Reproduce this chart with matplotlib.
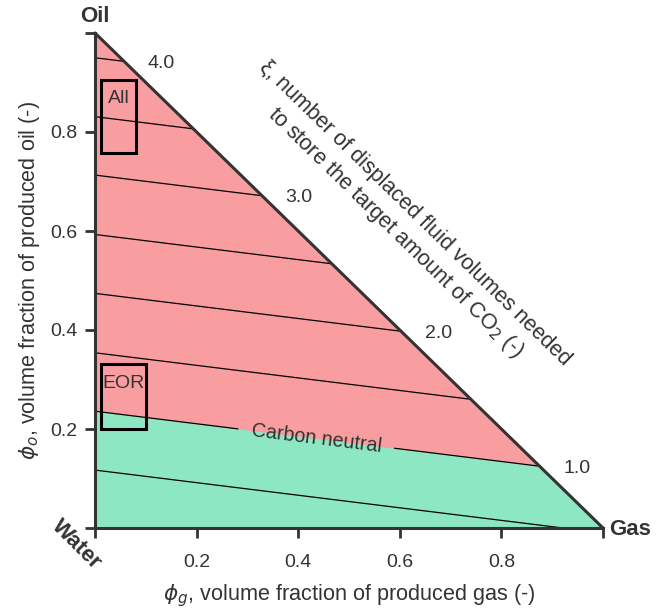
import numpy as np
import matplotlib.pyplot as plt
from matplotlib.patches import Polygon, Rectangle

plt.rcParams['font.family'] = ['Liberation Sans', 'DejaVu Sans']
plt.rcParams['mathtext.fontset'] = 'dejavusans'

# contour levels of xi and where each line sits (phi_o at phi_g = 0 and at phi_g = 1)
xi_levels = [0.5, 1.0, 1.5, 2.0, 2.5, 3.0, 3.5, 4.0]
phi_o_left = [0.117, 0.236, 0.354, 0.474, 0.593, 0.713, 0.831, 0.950]
phi_o_right = [-0.010, 0.109, 0.227, 0.347, 0.466, 0.586, 0.704, 0.823]
labelled = [1.0, 2.0, 3.0, 4.0]
neutral_level = 1.0

# boxes: (phi_g min, phi_g max, phi_o min, phi_o max)
box_names = ['All', 'EOR']
box_phi_g = [(0.012, 0.080), (0.012, 0.100)]
box_phi_o = [(0.758, 0.906), (0.200, 0.332)]

red = '#f99ea0'
green = '#8ee7c3'
dark = '#333333'

fig = plt.figure(figsize=(6.68, 6.13), dpi=100)
ax = fig.add_axes([95 / 668, 85 / 613, 508 / 668, 495 / 613])
ax.set_xlim(0, 1)
ax.set_ylim(0, 1)

tri = Polygon([[0, 0], [1, 0], [0, 1]], closed=True, facecolor=red, edgecolor='none')
ax.add_patch(tri)

i_n = xi_levels.index(neutral_level)
xs = np.array([0.0, 1.0])
cn = np.array([phi_o_left[i_n], phi_o_right[i_n]])
g = ax.fill_between(xs, 0, cn, color=green, lw=0)
g.set_clip_path(tri)

for lev, y0, y1 in zip(xi_levels, phi_o_left, phi_o_right):
    if lev == neutral_level:
        # leave a gap for the label
        for a, b in [(0.0, 0.281), (0.590, 1.0)]:
            ln, = ax.plot([a, b], [y0 + (y1 - y0) * a, y0 + (y1 - y0) * b], color='black', lw=0.9)
            ln.set_clip_path(tri)
        xm = 0.437
        ang = np.degrees(np.arctan((y1 - y0) * 495 / 508))
        ax.text(xm, y0 + (y1 - y0) * xm, 'Carbon neutral', rotation=ang, ha='center', va='center',
                rotation_mode='anchor', fontsize=14.2, color=dark)
    else:
        ln, = ax.plot([0, 1], [y0, y1], color='black', lw=0.9)
        ln.set_clip_path(tri)
    if lev in labelled:
        xe = (1 - y0) / (1 + (y1 - y0))
        ax.text(xe + 0.073, 1 - xe - 0.004, f'{lev:.1f}', ha='center', va='center', fontsize=14, color=dark)

# hypotenuse
ax.plot([0, 1], [1, 0], color=dark, lw=2.2, solid_capstyle='round', clip_on=False)

for name, (g0, g1), (o0, o1) in zip(box_names, box_phi_g, box_phi_o):
    ax.add_patch(Rectangle((g0, o0), g1 - g0, o1 - o0, fill=False, edgecolor='black', lw=2.2))
    ax.text((g0 + g1) / 2, o1 - 0.022, name, ha='center', va='top', fontsize=14, color=dark)

for s in ['top', 'right']:
    ax.spines[s].set_visible(False)
for s in ['left', 'bottom']:
    ax.spines[s].set_color(dark)
    ax.spines[s].set_linewidth(2.2)

ticks = [0, 0.2, 0.4, 0.6, 0.8, 1.0]
ax.set_xticks(ticks)
ax.set_yticks(ticks)
ax.set_xticklabels(['', '0.2', '0.4', '0.6', '0.8', ''])
ax.set_yticklabels(['', '0.2', '0.4', '0.6', '0.8', ''])
ax.tick_params(axis='both', length=7.5, width=2, color=dark, labelcolor=dark, labelsize=14)
ax.tick_params(axis='x', pad=11)
ax.tick_params(axis='y', pad=5)

ax.set_xlabel(r'$\phi_g$, volume fraction of produced gas (-)', fontsize=15.6, color=dark, labelpad=8)
ax.set_ylabel(r'$\phi_o$, volume fraction of produced oil (-)', fontsize=15.6, color=dark, labelpad=6)

ax.text(0, 1.034, 'Oil', ha='center', va='center', fontsize=16, fontweight='bold', color=dark, clip_on=False)
ax.text(1.012, -0.004, 'Gas', ha='left', va='center', fontsize=16, fontweight='bold', color=dark, clip_on=False)
ax.text(-0.036, -0.033, 'Water', ha='center', va='center', rotation=-45, fontsize=16, fontweight='bold',
        color=dark, clip_on=False)

ax.text(0.610, 0.614, 'ξ, number of displaced fluid volumes needed\nto store the target amount of CO$_2$ (-)',
        rotation=-44.3, rotation_mode='anchor', ha='center', va='center', multialignment='center',
        fontsize=15.6, color=dark, linespacing=1.25)

fig.savefig('out.png', dpi=100)
